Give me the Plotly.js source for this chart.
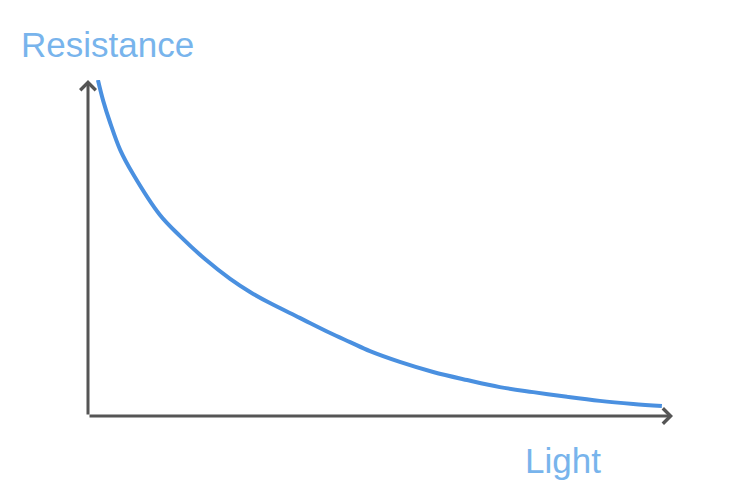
<!DOCTYPE html>
<html>
<head>
<meta charset="utf-8">
<script src="https://cdn.plot.ly/plotly-3.0.1.min.js"></script>
<style>html,body{margin:0;padding:0;background:#fff;}#chart{width:731px;height:498px;}</style>
</head>
<body>
<div id="chart"></div>
<script>
// Light (x) vs Resistance (y), arbitrary units
var light = [1.7, 2.6, 3.8, 5.5, 7.7, 12.3, 15.7, 20.0, 24.3, 27.7, 31.1, 36.2, 41.4, 44.8, 48.2, 53.3, 59.0, 64.8, 70.4, 76.1, 81.9, 87.5, 93.2, 98.1];
var resistance = [100, 93.8, 87.2, 79.2, 72.0, 59.8, 53.6, 46.7, 40.8, 36.9, 33.6, 29.2, 24.7, 22.0, 19.3, 16.1, 13.1, 10.7, 8.6, 7.1, 5.7, 4.5, 3.6, 3.0];
var xLabel = "Light";
var yLabel = "Resistance";

var axisColor = "#555555";
var labelColor = "#78b4ec";

var trace = {
  x: light, y: resistance, mode: "lines", type: "scatter",
  line: {color: "#4a90e0", width: 4, shape: "spline", smoothing: 1},
  hoverinfo: "skip", cliponaxis: false
};

var layout = {
  width: 731, height: 498,
  margin: {l: 88, r: 58, t: 80, b: 82},
  paper_bgcolor: "#ffffff", plot_bgcolor: "#ffffff",
  showlegend: false,
  xaxis: {range: [0, 100], visible: false, fixedrange: true},
  yaxis: {range: [0, 100], visible: false, fixedrange: true},
  annotations: [
    {x: 0, y: 100, ax: 0, ay: 0, xref: "x", yref: "y", axref: "x", ayref: "y",
     text: "", showarrow: true, arrowhead: 4, arrowsize: 1, arrowwidth: 3, arrowcolor: axisColor},
    {x: 100, y: 0, ax: 0, ay: 0, xref: "x", yref: "y", axref: "x", ayref: "y",
     text: "", showarrow: true, arrowhead: 4, arrowsize: 1, arrowwidth: 3, arrowcolor: axisColor},
    {x: 0.034, y: 1.107, xref: "paper", yref: "paper", xanchor: "center", yanchor: "middle",
     text: yLabel, showarrow: false,
     font: {family: "Liberation Sans, Arial, sans-serif", size: 35, color: labelColor}},
    {x: 0.812, y: -0.131, xref: "paper", yref: "paper", xanchor: "center", yanchor: "middle",
     text: xLabel, showarrow: false,
     font: {family: "Liberation Sans, Arial, sans-serif", size: 35, color: labelColor}}
  ]
};

Plotly.newPlot("chart", [trace], layout, {displayModeBar: false, staticPlot: true});
</script>
</body>
</html>
